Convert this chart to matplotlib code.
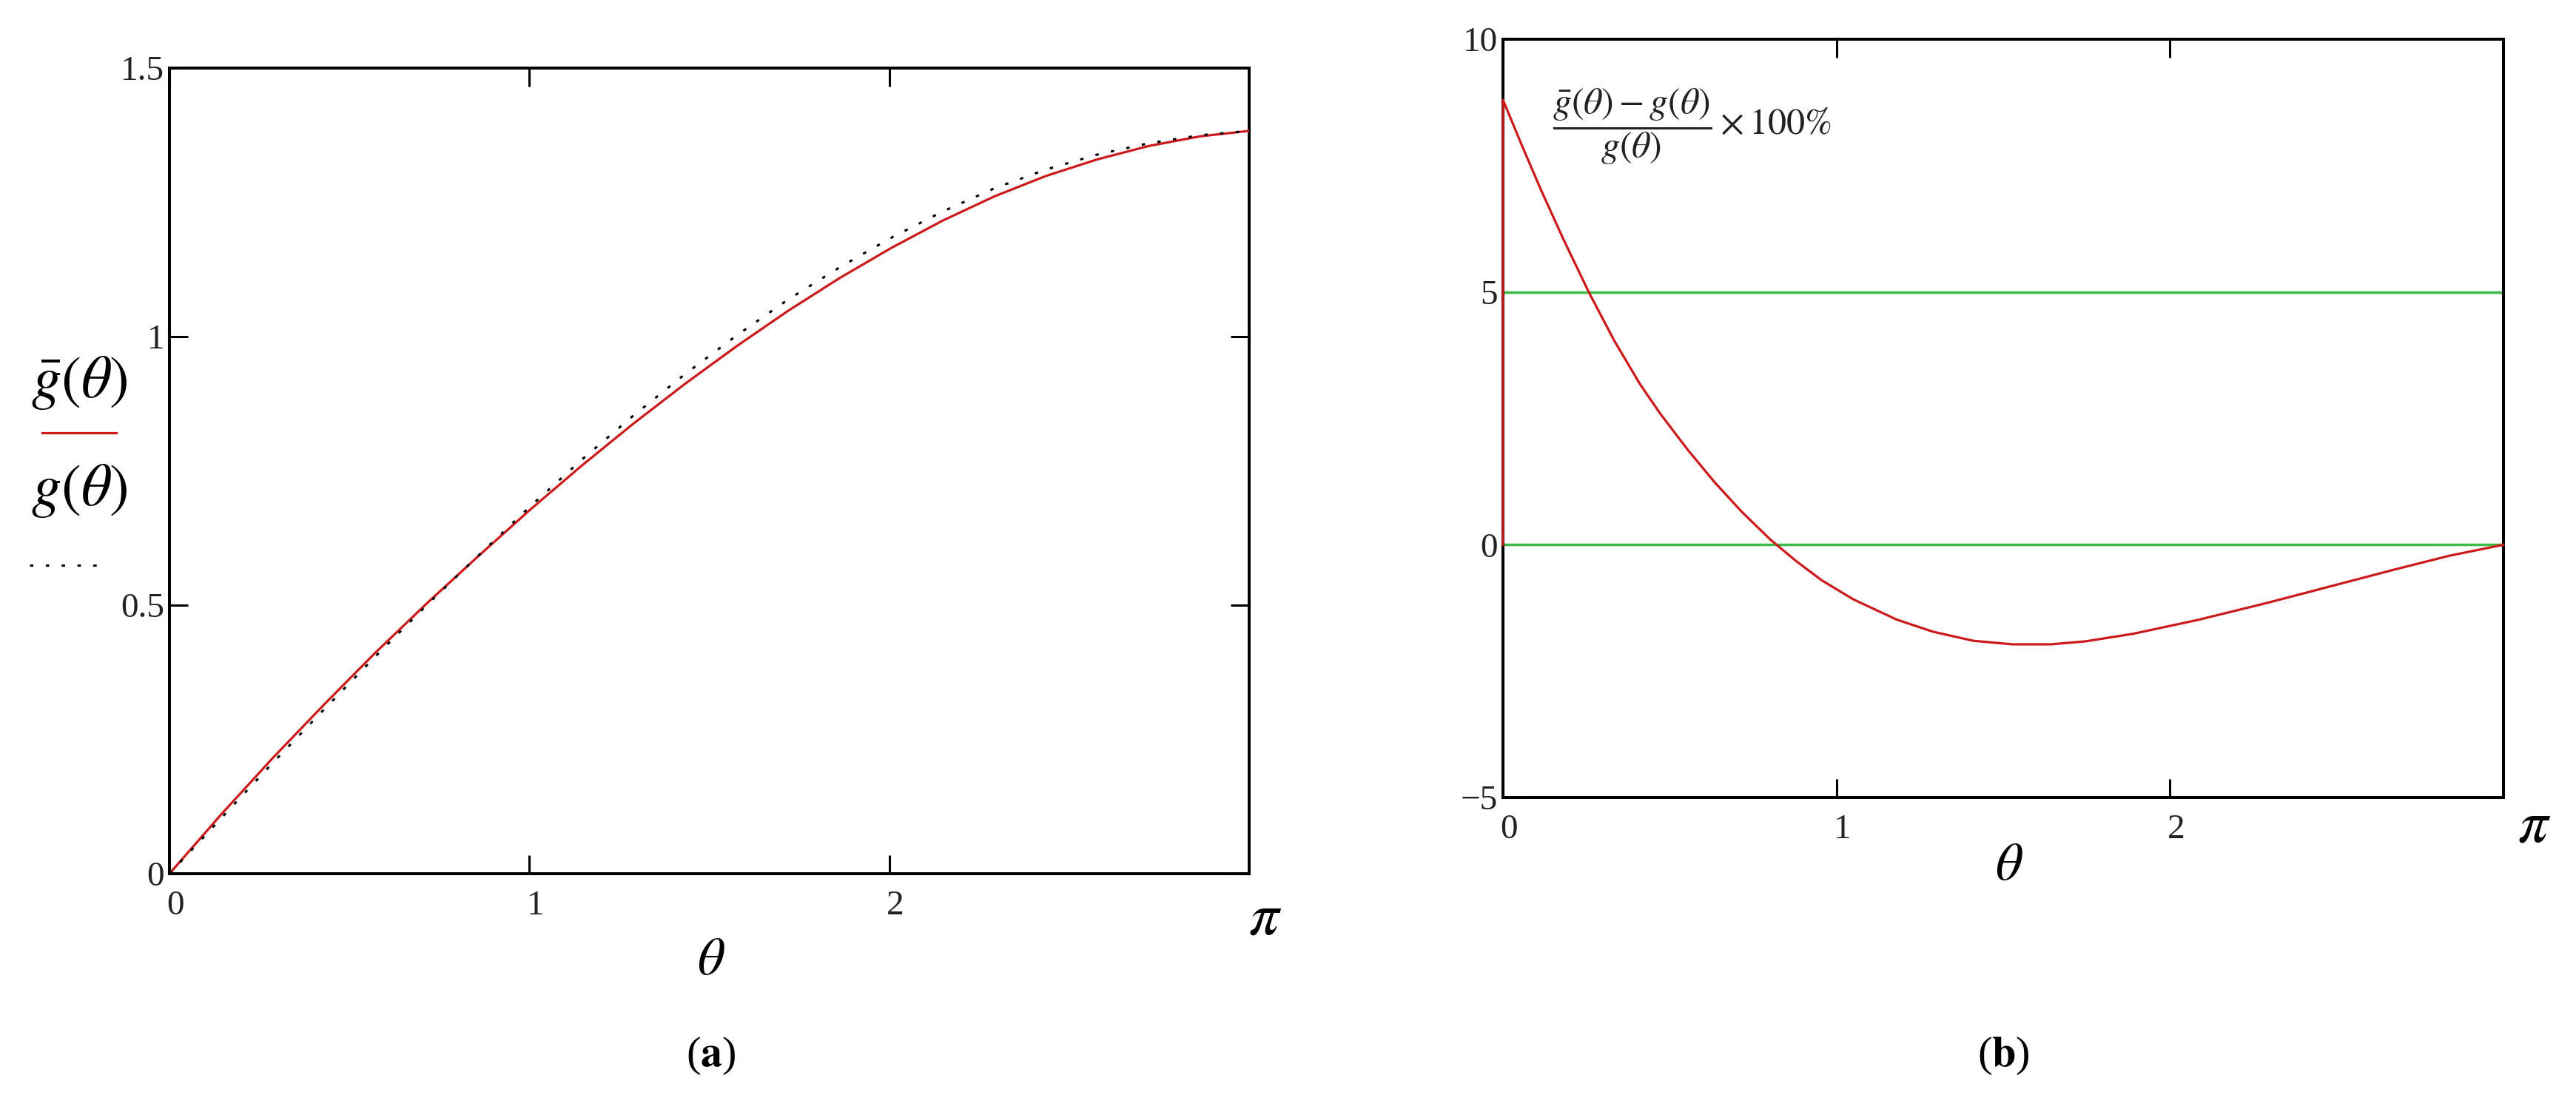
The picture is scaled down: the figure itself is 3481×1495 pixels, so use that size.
import numpy as np
import matplotlib
matplotlib.use("Agg")
import matplotlib.pyplot as plt
from matplotlib.lines import Line2D
from matplotlib.transforms import ScaledTranslation

# ---------------- data ----------------
theta_a = [0.0, 0.15, 0.30, 0.45, 0.60, 0.75, 0.90, 1.05, 1.20, 1.35, 1.50,
           1.65, 1.80, 1.95, 2.10, 2.25, 2.40, 2.55, 2.70, 2.85, 3.00, np.pi]
g_tilde = [0.0, 0.110, 0.215, 0.315, 0.412, 0.504, 0.592, 0.678, 0.760, 0.838,
           0.912, 0.982, 1.048, 1.109, 1.165, 1.216, 1.261, 1.299, 1.330, 1.355,
           1.373, 1.383]
g_exact = [0.0, 0.103, 0.206, 0.306, 0.405, 0.501, 0.593, 0.684, 0.771, 0.853,
           0.930, 1.002, 1.069, 1.129, 1.184, 1.233, 1.276, 1.311, 1.339, 1.360,
           1.375, 1.383]

theta_b = [0.0, 0.0, 0.06, 0.12, 0.19, 0.27, 0.35, 0.43, 0.493, 0.58, 0.664,
           0.75, 0.84, 0.92, 1.0, 1.1, 1.236, 1.35, 1.477, 1.6, 1.72, 1.83,
           1.98, 2.18, 2.4, 2.6, 2.8, 2.97, np.pi]
rel_err = [0.0, 8.8, 7.89, 7.01, 6.04, 4.99, 4.03, 3.18, 2.60, 1.88, 1.24,
           0.65, 0.10, -0.32, -0.70, -1.08, -1.48, -1.72, -1.90, -1.97, -1.97,
           -1.91, -1.76, -1.49, -1.15, -0.82, -0.49, -0.22, 0.0]
ref_levels_b = [0, 5]

xtick_pos = [0, np.pi / 3, 2 * np.pi / 3]
xtick_lab = ["0", "1", "2"]
ytick_a_pos = [0, 0.5, 1.0, 1.5]
ytick_a_lab = ["0", "0.5", "1", "1.5"]
ytick_b_pos = [-5, 0, 5, 10]
ytick_b_lab = ["\u22125", "0", "5", "10"]

# ---------------- style ----------------
plt.rcParams["mathtext.fontset"] = "stix"
plt.rcParams["font.family"] = ["Liberation Serif", "DejaVu Serif"]

RED = "#cc1a1a"
GREEN = "#3dbb48"
TXT = "#222222"

W, H, DPI = 3481, 1495, 100
fig = plt.figure(figsize=(W / DPI, H / DPI), dpi=DPI)
fig.patch.set_facecolor("white")


def px_rect(x0, x1, ytop, ybot):
    return [x0 / W, 1 - ybot / H, (x1 - x0) / W, (ybot - ytop) / H]


axa = fig.add_axes(px_rect(229, 1688, 92, 1181))
axb = fig.add_axes(px_rect(2031, 3383, 53, 1078))


def style_axes(ax, yticks, ylabels, ylim):
    ax.set_xlim(0, np.pi)
    ax.set_ylim(*ylim)
    ax.set_xticks(xtick_pos)
    ax.set_xticklabels(xtick_lab)
    ax.set_yticks(yticks)
    ax.set_yticklabels(ylabels)
    for s in ax.spines.values():
        s.set_linewidth(2.9)
        s.set_color("black")
    ax.tick_params(direction="in", length=18, width=2.2, top=True, right=True,
                   labelsize=34, labelcolor=TXT, colors="black")
    ax.tick_params(axis="y", pad=5)
    ax.tick_params(axis="x", pad=16)
    off = ScaledTranslation(8 / DPI, 0, fig.dpi_scale_trans)
    for lab in ax.get_xticklabels():
        lab.set_transform(lab.get_transform() + off)


style_axes(axa, ytick_a_pos, ytick_a_lab, (0, 1.5))
style_axes(axb, ytick_b_pos, ytick_b_lab, (-5, 10))

# ---------------- panel (a) ----------------
axa.plot(theta_a, g_tilde, color=RED, lw=2.3, zorder=3)
axa.plot(theta_a, g_exact, color="black", lw=2.2, linestyle=(0, (1.5, 5.5)),
         dash_capstyle="butt", zorder=4)

axa.annotate(r"$\pi$", xy=(np.pi, 0), xycoords=("data", "axes fraction"),
             xytext=(22, -62), textcoords="offset pixels", ha="center",
             va="center", fontsize=58, color="black")
fig.text(961 / W, 1 - 1300 / H, r"$\theta$", fontsize=52, ha="center",
         va="center", color="black")

# Mathcad-style trace names with line samples
fig.text(107 / W, 1 - 517 / H, r"$\bar{g}(\theta)$", fontsize=58, ha="center",
         va="center", color="black")
fig.add_artist(Line2D([57 / W, 157 / W], [1 - 585 / H] * 2, color=RED, lw=2.3,
                      transform=fig.transFigure))
fig.text(107 / W, 1 - 664 / H, r"$g(\theta)$", fontsize=58, ha="center",
         va="center", color="black")
fig.add_artist(Line2D([40 / W, 135 / W], [1 - 764 / H] * 2, color="black",
                      lw=2.2, linestyle=(0, (1.5, 5.5)), dash_capstyle="butt",
                      transform=fig.transFigure))

fig.text(961 / W, 1 - 1427 / H, r"($\mathbf{a}$)", fontsize=42, ha="center",
         va="center", color="black")

# ---------------- panel (b) ----------------
for lev in ref_levels_b:
    axb.axhline(lev, color=GREEN, lw=2.5, zorder=2)
axb.plot(theta_b, rel_err, color=RED, lw=2.3, zorder=3, clip_on=False)

axb.annotate(r"$\pi$", xy=(np.pi, 0), xycoords=("data", "axes fraction"),
             xytext=(42, -40), textcoords="offset pixels", ha="center",
             va="center", fontsize=58, color="black")
fig.text(2715 / W, 1 - 1172 / H, r"$\theta$", fontsize=52, ha="center",
         va="center", color="black")

fig.text(2098 / W, 1 - 171 / H,
         r"$\dfrac{\bar{g}(\theta)-g(\theta)}{g(\theta)}\times100\%$",
         fontsize=36, ha="left", va="center", color=TXT)

fig.text(2707 / W, 1 - 1427 / H, r"($\mathbf{b}$)", fontsize=42, ha="center",
         va="center", color="black")

fig.savefig("out.png", dpi=DPI, facecolor="white")
